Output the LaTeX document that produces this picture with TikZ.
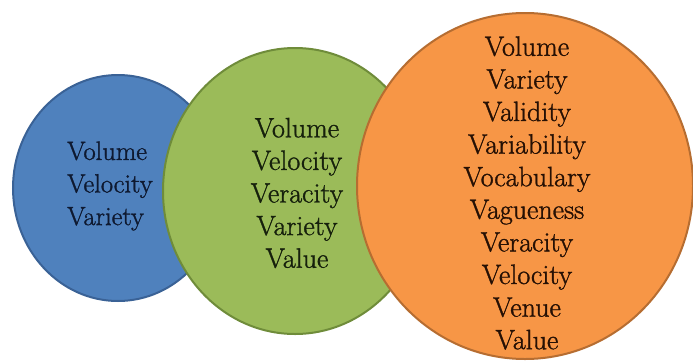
\documentclass[tikz,border=0pt]{standalone}
\usepackage{fontspec}
\newfontfamily\tnr{Latin Modern Roman}[FakeBold=1.2]
\definecolor{bfill}{HTML}{4F81BD}
\definecolor{bline}{HTML}{3A6296}
\definecolor{gfill}{HTML}{9BBB59}
\definecolor{gline}{HTML}{6F8C3A}
\definecolor{ofill}{HTML}{F79646}
\definecolor{oline}{HTML}{B66D31}
\definecolor{btext}{HTML}{0E1930}
\definecolor{gtext}{HTML}{16200C}
\definecolor{otext}{HTML}{261004}
\tikzset{
  blob/.style={line width=2pt},
  words/.style={inner sep=0pt, align=center, font=\tnr\fontsize{28}{32.6}\selectfont},
}
\begin{document}
\begin{tikzpicture}[x=1pt,y=-1pt]
\useasboundingbox (0,0) rectangle (693,362);
\fill[white] (0,0) rectangle (693,362);
\draw[blob, fill=bfill, draw=bline] (118,188) ellipse [x radius=105, y radius=113];
\draw[blob, fill=gfill, draw=gline] (295,191) ellipse [x radius=132, y radius=143];
\draw[blob, fill=ofill, draw=oline] (525,186) ellipse [x radius=168, y radius=173];
\node[words, align=left, anchor=west, text=btext, font=\tnr\fontsize{26.5}{32.6}\selectfont] (bt) at (67,186) {Volume\\Velocity\\Variety};
\node[words, text=gtext] (gt) at (297,193) {Volume\\Velocity\\Veracity\\Variety\\Value};
\node[words, text=otext] (ot) at (527,193) {Volume\\Variety\\Validity\\Variability\\Vocabulary\\Vagueness\\Veracity\\Velocity\\Venue\\Value};
\end{tikzpicture}
\end{document}
